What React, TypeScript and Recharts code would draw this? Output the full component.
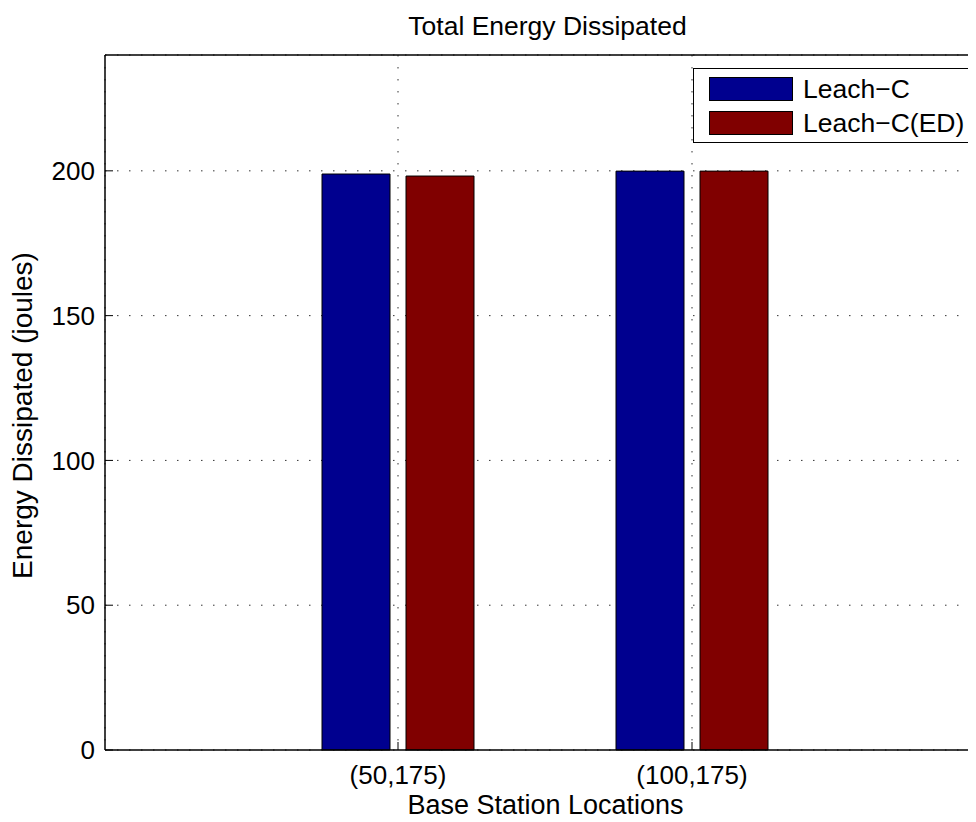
import { BarChart, Bar, XAxis, YAxis, CartesianGrid, Legend } from "recharts"

const locations = ["(50,175)", "(100,175)"]
const leachC = [198.9, 199.9]
const leachCED = [198.2, 199.9]
const yTicks = [0, 50, 100, 150, 200]

const data = locations.map((location, i) => ({
  location,
  leachC: leachC[i],
  leachCED: leachCED[i],
}))

const font = '"Liberation Sans", Arial, Helvetica, sans-serif'

function LegendBox({ payload }: any) {
  return (
    <div
      style={{
        width: 276,
        height: 73,
        border: "1.5px solid #000",
        background: "#fff",
        position: "relative",
        fontFamily: font,
        fontSize: 26.5,
      }}
    >
      {(payload || []).map((p: any, i: number) => (
        <div key={p.value} style={{ position: "absolute", left: 15, top: 8 + i * 34, display: "flex", alignItems: "center" }}>
          <div style={{ width: 84, height: 24, background: p.color, border: "1px solid #000", boxSizing: "border-box" }} />
          <span style={{ marginLeft: 10, lineHeight: "24px", color: "#000" }}>{p.value}</span>
        </div>
      ))}
    </div>
  )
}

export default function App() {
  return (
    <div style={{ width: 968, height: 814, overflow: "hidden", marginBottom: -8 }}>
      <BarChart
        width={1000}
        height={814}
        data={data}
        margin={{ top: 0, right: 22, left: 0, bottom: 0 }}
        barSize={68}
        barGap={16}
        style={{ fontFamily: font }}
      >
        <CartesianGrid stroke="#333" strokeDasharray="1.5 10.5" horizontal vertical />
        <XAxis
          dataKey="location"
          height={72}
          padding={{ left: 146, right: 147 }}
          tickSize={-8}
          tickMargin={24}
          tick={{ fill: "#000", fontSize: 26 }}
          axisLine={{ stroke: "#000", strokeWidth: 1.5 }}
          tickLine={{ stroke: "#000" }}
          label={{ value: "Base Station Locations", position: "insideBottom", offset: 8, fill: "#000", fontSize: 27 }}
        />
        <XAxis
          xAxisId="top"
          orientation="top"
          dataKey="location"
          height={47}
          padding={{ left: 146, right: 147 }}
          tickSize={-8}
          tick={false}
          axisLine={{ stroke: "#000", strokeWidth: 1.5 }}
          tickLine={{ stroke: "#000" }}
          label={{ value: "Total Energy Dissipated", position: "insideTop", offset: 8, dx: 2, fill: "#000", fontSize: 26.5 }}
        />
        <YAxis
          width={97}
          domain={[0, 240]}
          ticks={yTicks}
          interval={0}
          tickSize={-8}
          tickMargin={18}
          tick={{ fill: "#000", fontSize: 26 }}
          axisLine={{ stroke: "#000", strokeWidth: 1.5 }}
          tickLine={{ stroke: "#000" }}
          label={{ value: "Energy Dissipated (joules)", angle: -90, position: "center", dx: -34, dy: 13, fill: "#000", fontSize: 28 }}
        />
        <Legend
          layout="vertical"
          align="center"
          verticalAlign="middle"
          content={<LegendBox />}
          wrapperStyle={{ left: 685, top: 60, width: 279, height: 76 }}
        />
        <Bar dataKey="leachC" name="Leach−C" fill="#00008F" stroke="#000" strokeWidth={1} isAnimationActive={false} />
        <Bar dataKey="leachCED" name="Leach−C(ED)" fill="#800000" stroke="#000" strokeWidth={1} isAnimationActive={false} />
      </BarChart>
    </div>
  )
}
